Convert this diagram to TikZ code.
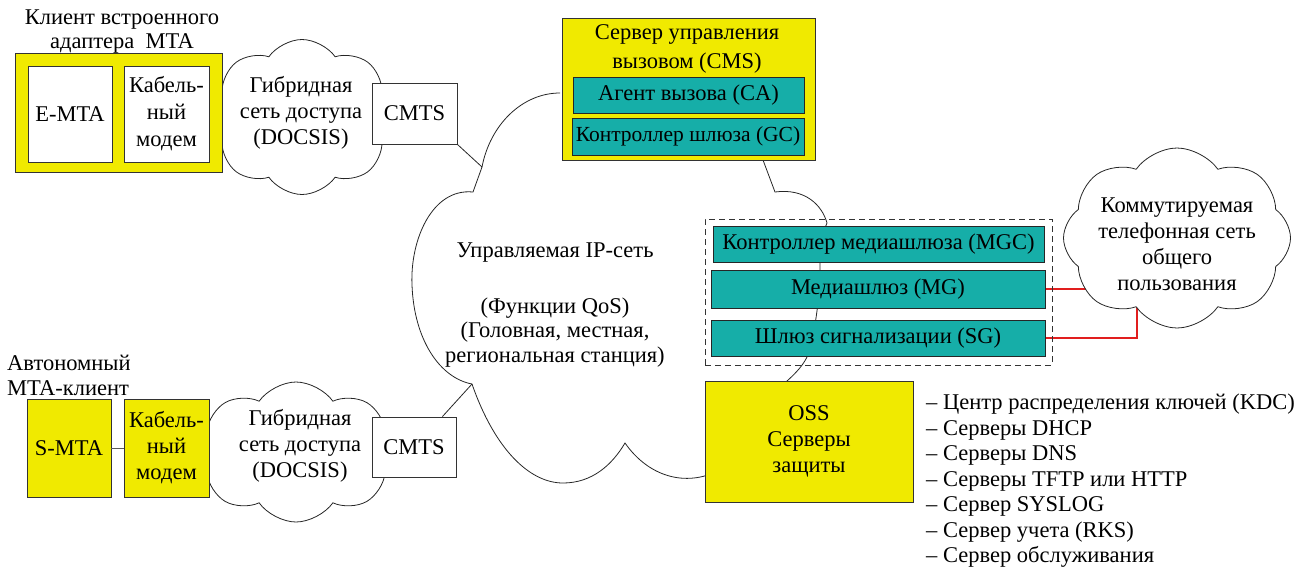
\documentclass[tikz,border=0pt]{standalone}
\usepackage{fontspec}
\setmainfont{Liberation Serif}
\usetikzlibrary{shapes.symbols,calc,backgrounds}
\definecolor{ylw}{RGB}{240,234,0}
\definecolor{tealc}{RGB}{22,174,168}
\definecolor{redl}{RGB}{225,30,30}
\begin{document}
\begin{tikzpicture}[x=1pt,y=-1pt,
  every node/.style={inner sep=0pt, font=\fontsize{22.5}{25}\selectfont, align=center},
  ybox/.style={draw=black!80, fill=ylw, line width=0.8pt},
  wbox/.style={draw=black!80, fill=white, line width=0.8pt},
  tbox/.style={draw=black!85, fill=tealc, line width=1pt},
  cloudn/.style={cloud, draw=black!85, fill=white, line width=0.8pt, cloud puffs=8, cloud puff arc=110},
  link/.style={draw=black!85, line width=0.8pt},
  redlink/.style={draw=redl, line width=1.2pt}]
\useasboundingbox (0,0) rectangle (1295,571);

% big IP-network cloud
\coordinate (c1) at (482,167);
\coordinate (c2) at (472,384);
\draw[link] (560,93) .. controls (522,93) and (490,125) .. (c1) -- (473,192)
 .. controls (432,188) and (410,240) .. (412,285)
 .. controls (414,340) and (440,378) .. (c2)
 .. controls (495,450) and (530,483) .. (563,483)
 .. controls (592,483) and (612,465) .. (625,443)
 .. controls (648,476) and (685,488) .. (720,470)
 .. controls (760,450) and (778,400) .. (787,381)
 .. controls (797,372) and (803,365) .. (807,357)
 .. controls (816,330) and (820,295) .. (820,262)
 .. controls (820,245) and (823,232) .. (827,223)
 .. controls (822,205) and (805,188) .. (775,192)
 -- (763,160);
\node[font=\fontsize{22.5}{24.5}\selectfont] (ipnet) at (555,305) {Управляемая IP-сеть\\[31pt](Функции QoS)\\(Головная, местная,\\региональная станция)};

% top client
\node (t1) at (122,32) [font=\fontsize{22.5}{24}\selectfont] {Клиент встроенного\\адаптера\ \ MTA};
\node[cloudn, minimum width=186pt, minimum height=155pt, aspect=1.2] (cl1) at (302,117) {};
\node[font=\fontsize{22.5}{26}\selectfont] (cl1t) at (301,113) {Гибридная\\сеть доступа\\(DOCSIS)};
\node[ybox, minimum width=207pt, minimum height=119pt] (emb) at (118.5,112.5) {};
\node[wbox, minimum width=84pt, minimum height=96pt] (emta) at (70,114) {E-MTA};
\node[wbox, minimum width=85pt, minimum height=96pt, font=\fontsize{22.5}{27}\selectfont] (cm1) at (166.5,114) {Кабель-\\ный\\модем};
\node[wbox, minimum width=85pt, minimum height=61pt] (cmtsT) at (414.5,113.5) {CMTS};

% bottom client
\node (t2) at (7,375) [anchor=west, align=left, font=\fontsize{22.5}{25}\selectfont] {Автономный\\MTA-клиент};
\node[cloudn, minimum width=200pt, minimum height=140pt, aspect=1.45] (cl2) at (296,452) {};
\node[font=\fontsize{22.5}{26}\selectfont] (cl2t) at (300,446) {Гибридная\\сеть доступа\\(DOCSIS)};
\node[ybox, minimum width=84pt, minimum height=98pt] (smta) at (69,448) {S-MTA};
\node[ybox, minimum width=85pt, minimum height=98pt, font=\fontsize{22.5}{26}\selectfont] (cm2) at (166.5,448) {Кабель-\\ный\\модем};
\node[wbox, minimum width=84pt, minimum height=60pt] (cmtsB) at (414,447) {CMTS};
\draw[link, black!65] (smta.east) -- (cm2.west);

% CMS
\node[ybox, minimum width=253pt, minimum height=142pt] (cms) at (688.5,89) {};
\node[font=\fontsize{22.5}{29}\selectfont] (cmst) at (687,49) {Сервер управления\\вызовом (CMS)};
\node[tbox, minimum width=231pt, minimum height=36pt] (ca) at (688.5,95) {Агент вызова (CA)};
\node[tbox, minimum width=232pt, minimum height=37pt, font=\fontsize{21.5}{25}\selectfont] (gc) at (688,136.5) {Контроллер шлюза (GC)};

% media gateway group
\node[draw=black!80, dash pattern=on 6pt off 4pt, line width=0.8pt, minimum width=347pt, minimum height=146pt] (grp) at (878.5,292) {};
\node[tbox, minimum width=331pt, minimum height=36pt] (mgc) at (878.5,244) {Контроллер медиашлюза (MGC)};
\node[tbox, minimum width=334pt, minimum height=38pt] (mg) at (878,289) {Медиашлюз (MG)};
\node[tbox, minimum width=334pt, minimum height=36pt] (sg) at (878,338) {Шлюз сигнализации (SG)};

% PSTN
\node[cloudn, minimum width=227pt, minimum height=180pt, aspect=1.26] (pstn) at (1177,238) {};
\node[font=\fontsize{22.5}{26}\selectfont] (pstnt) at (1177,244) {Коммутируемая\\телефонная сеть\\общего\\пользования};
\begin{scope}[on background layer]
\draw[redlink] (mg.east) -- (mg.east -| pstn.center);
\draw[redlink] (sg.east) -| ([xshift=-40pt]pstn.center);
\end{scope}

% OSS
\node[ybox, minimum width=208pt, minimum height=121pt, font=\fontsize{22.5}{26}\selectfont] (oss) at (809,441.5) {OSS\\Серверы\\защиты};
\node[anchor=west, align=left, font=\fontsize{22.5}{25.5}\selectfont] (list) at (926,481) {– Центр распределения ключей (KDC)\\– Серверы DHCP\\– Серверы DNS\\– Серверы TFTP или HTTP\\– Сервер SYSLOG\\– Сервер учета (RKS)\\– Сервер обслуживания};

% connectors to IP cloud
\draw[link] (cmtsT.south east) -- (c1);
\draw[link] ([xshift=-14pt]cmtsB.north east) -- (c2);
\end{tikzpicture}
\end{document}
